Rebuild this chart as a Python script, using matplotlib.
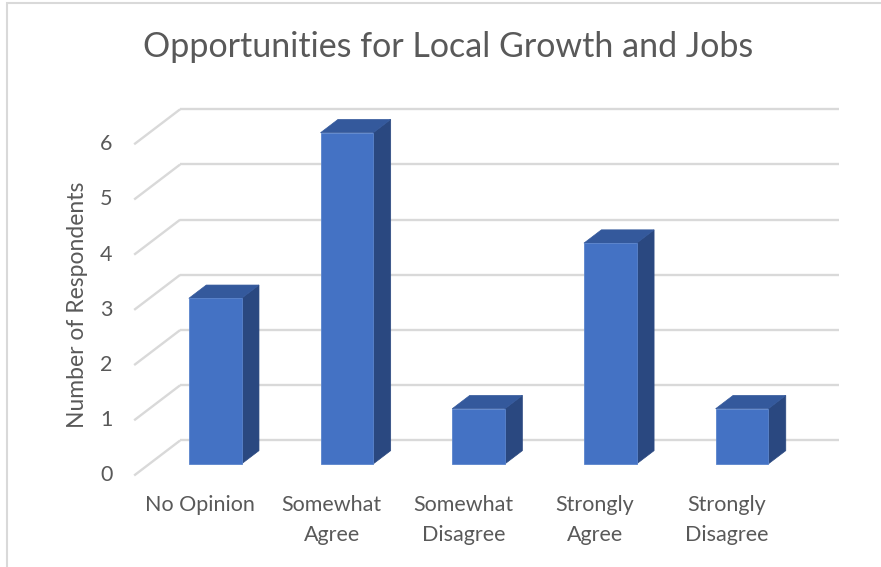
import matplotlib
matplotlib.use("Agg")
import matplotlib.pyplot as plt
from matplotlib.patches import Polygon, Rectangle

plt.rcParams['font.family'] = ['Lato', 'DejaVu Sans']

# dados da pesquisa
categorias = ['No Opinion', 'Somewhat\nAgree', 'Somewhat\nDisagree', 'Strongly\nAgree', 'Strongly\nDisagree']
respostas = [3, 6, 1, 4, 1]
ticks_y = [0, 1, 2, 3, 4, 5, 6]

# cores das faces da coluna 3D
cor_frente = '#4472C4'
cor_topo = '#34599C'
cor_lado = '#2A4880'
cor_grade = '#D9D9D9'
cor_texto = '#595959'

# profundidade do "piso" em unidades de dados (x, y)
prof_x, prof_y = 0.349, 0.634
z0, z1 = 0.33, 0.71   # posição da coluna dentro da profundidade
largura = 0.40

fig = plt.figure(figsize=(8.81, 5.67), dpi=100)
ax = fig.add_axes([0, 0, 1, 1])
ax.set_xlim(-1.5186, 5.1708)
ax.set_ylim(-1.658, 8.614)
ax.axis('off')

n = len(categorias)
x_esq, x_dir = -0.5, n - 0.5

# grade: parede do fundo + diagonais do piso à esquerda
for v in ticks_y:
    ax.plot([x_esq + prof_x, x_dir + prof_x], [v + prof_y, v + prof_y],
            color=cor_grade, lw=1.7, solid_capstyle='butt', zorder=1)
    ax.plot([x_esq, x_esq + prof_x], [v, v + prof_y],
            color=cor_grade, lw=1.7, solid_capstyle='butt', zorder=1)
    ax.text(x_esq - 0.165, v, str(v), ha='right', va='center',
            fontsize=15.5, color=cor_texto)

def ponto(x, y, z):
    return (x + z * prof_x, y + z * prof_y)

for i, val in enumerate(respostas):
    xa, xb = i - largura / 2, i + largura / 2
    frente = [ponto(xa, 0, z0), ponto(xb, 0, z0), ponto(xb, val, z0), ponto(xa, val, z0)]
    lado = [ponto(xb, 0, z0), ponto(xb, 0, z1), ponto(xb, val, z1), ponto(xb, val, z0)]
    topo = [ponto(xa, val, z0), ponto(xb, val, z0), ponto(xb, val, z1), ponto(xa, val, z1)]
    ax.add_patch(Polygon(lado, closed=True, facecolor=cor_lado, edgecolor=cor_lado, lw=0.5, zorder=2))
    ax.add_patch(Polygon(topo, closed=True, facecolor=cor_topo, edgecolor=cor_topo, lw=0.5, zorder=2))
    ax.add_patch(Polygon(frente, closed=True, facecolor=cor_frente, edgecolor='#5A84CC', lw=0.6, zorder=3))
    # rótulo da categoria, uma linha por vez
    for k, linha in enumerate(categorias[i].split('\n')):
        ax.text(i, -0.534 - 0.544 * k, linha, ha='center', va='center',
                fontsize=15.5, color=cor_texto)

fig.text(0.5085, 1 - 47 / 567, 'Opportunities for Local Growth and Jobs', ha='center', va='center',
         fontsize=24.5, color=cor_texto)
fig.text(77 / 881, 1 - 305 / 567, 'Number of Respondents', ha='center', va='center',
         rotation=90, fontsize=16.5, color=cor_texto)

# moldura do gráfico
fig.add_artist(Rectangle((7 / 881, -0.1), 1.2, 1 - 3 / 567 + 0.1, transform=fig.transFigure,
                         fill=False, edgecolor=cor_grade, lw=1.5))

fig.savefig('out.png', dpi=100)
plt.close()
